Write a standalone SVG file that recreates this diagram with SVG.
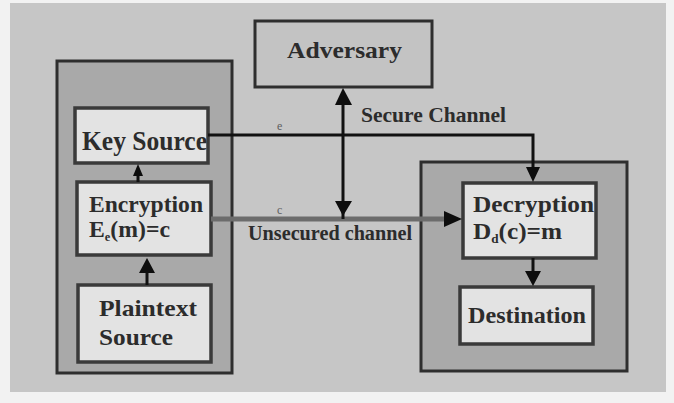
<svg xmlns="http://www.w3.org/2000/svg" width="674" height="403" viewBox="0 0 674 403">
  <defs>
    <style>
      .bg { fill: #c6c6c6; }
      .outer { fill: #a9a9a9; stroke: #2e2e2e; stroke-width: 3; }
      .inner { fill: #e3e3e3; stroke: #3a3a3a; stroke-width: 3.5; }
      .adv { fill: #c3c3c3; stroke: #2e2e2e; stroke-width: 3; }
      .lbl { font-family: "Liberation Serif", "Times New Roman", serif; font-weight: bold; fill: #2c2c2c; }
      .small { font-family: "Liberation Serif", "Times New Roman", serif; font-size: 12px; fill: #5e5e5e; }
      .wire { stroke: #111; stroke-width: 3; fill: none; }
      .open { stroke: #6c6c6c; stroke-width: 5; fill: none; }
      .head { fill: #0d0d0d; }
    </style>
  </defs>

  <!-- page -->
  <rect x="0" y="0" width="674" height="403" fill="#f2f2f2"/>
  <rect class="bg" x="10" y="3" width="656" height="389"/>

  <!-- sender side container -->
  <g id="sender">
    <rect class="outer" x="57" y="61" width="175" height="312"/>
  </g>

  <!-- receiver side container -->
  <g id="receiver">
    <rect class="outer" x="421" y="162" width="206" height="209"/>
  </g>

  <g id="adversary">
    <rect class="adv" x="255" y="21" width="177" height="66"/>
    <text class="lbl" x="287" y="58" font-size="23" textLength="115" lengthAdjust="spacingAndGlyphs">Adversary</text>
  </g>

  <g id="key-source">
    <rect class="inner" x="75" y="108" width="133" height="55"/>
    <text class="lbl" x="82" y="150" font-size="28" textLength="125" lengthAdjust="spacingAndGlyphs">Key Source</text>
  </g>

  <g id="encryption">
    <rect class="inner" x="77" y="182" width="134" height="73"/>
    <text class="lbl" x="89" y="212" font-size="23" textLength="114" lengthAdjust="spacingAndGlyphs">Encryption</text>
    <text class="lbl" x="89" y="237" font-size="23" textLength="81" lengthAdjust="spacingAndGlyphs">E<tspan font-size="12" dy="4">e</tspan><tspan dy="-4">(m)=c</tspan></text>
  </g>

  <g id="plaintext-source">
    <rect class="inner" x="78" y="285" width="133" height="77"/>
    <text class="lbl" x="99" y="316" font-size="23" textLength="98" lengthAdjust="spacingAndGlyphs">Plaintext</text>
    <text class="lbl" x="99" y="345" font-size="23" textLength="74" lengthAdjust="spacingAndGlyphs">Source</text>
  </g>

  <g id="decryption">
    <rect class="inner" x="463" y="183" width="133" height="75"/>
    <text class="lbl" x="473" y="212" font-size="23" textLength="121" lengthAdjust="spacingAndGlyphs">Decryption</text>
    <text class="lbl" x="473" y="239" font-size="23" textLength="89" lengthAdjust="spacingAndGlyphs">D<tspan font-size="12" dy="4">d</tspan><tspan dy="-4">(c)=m</tspan></text>
  </g>

  <g id="destination">
    <rect class="inner" x="460" y="287" width="133" height="57"/>
    <text class="lbl" x="468" y="323" font-size="23" textLength="118" lengthAdjust="spacingAndGlyphs">Destination</text>
  </g>

  <g id="connectors">
    <!-- key distribution over the secure channel -->
    <polyline class="wire" points="208,135 533,135 533,170"/>
    <polygon class="head" points="526,167 540,167 533,182"/>
    <text class="small" x="277" y="130">e</text>

    <!-- ciphertext over the unsecured channel -->
    <line class="open" x1="211" y1="219" x2="446" y2="219"/>
    <polygon class="head" points="444,211 444,227 462,219"/>
    <text class="small" x="277" y="214">c</text>

    <!-- adversary tap, both directions -->
    <line class="wire" x1="343" y1="100" x2="343" y2="219"/>
    <polygon class="head" points="335,105 352,105 343,88"/>
    <polygon class="head" points="335,201 352,201 343,216"/>

    <!-- encryption to key source -->
    <line class="wire" x1="138" y1="182" x2="138" y2="170"/>
    <polygon class="head" points="133,176 143,176 138,164"/>

    <!-- plaintext to encryption -->
    <line class="wire" x1="147" y1="285" x2="147" y2="270"/>
    <polygon class="head" points="139,273 155,273 147,258"/>

    <!-- decryption to destination -->
    <line class="wire" x1="533" y1="258" x2="533" y2="274"/>
    <polygon class="head" points="525,271 541,271 533,286"/>

    <text class="lbl" x="361" y="122" font-size="20" textLength="145" lengthAdjust="spacingAndGlyphs">Secure Channel</text>
    <text class="lbl" x="248" y="240" font-size="20" textLength="164" lengthAdjust="spacingAndGlyphs">Unsecured channel</text>
  </g>
</svg>
